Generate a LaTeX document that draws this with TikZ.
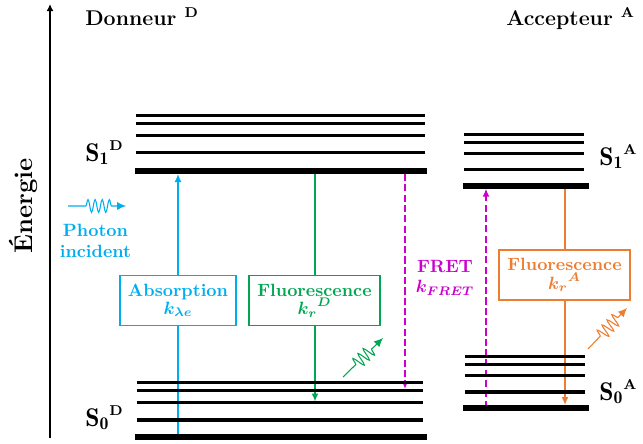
\documentclass[tikz,border=0pt]{standalone}
\usepackage{fontspec}
\usetikzlibrary{arrows.meta,decorations.pathmorphing}
\definecolor{cyanc}{RGB}{0,174,239}
\definecolor{greenc}{RGB}{0,166,81}
\definecolor{magc}{RGB}{204,0,204}
\definecolor{orangec}{RGB}{237,125,49}
\newcommand{\stsup}[1]{\mbox{\footnotesize\bfseries #1}}
\begin{document}
\begin{tikzpicture}[x=0.5625pt,y=-0.5625pt,
  lvl/.style={line width=1.9pt},
  lvlthick/.style={line width=3.4pt},
  trans/.style={line width=1.1pt,-{Latex[length=4.5pt,width=4pt]}},
  fretarrow/.style={line width=1.5pt,magc,dash pattern=on 4pt off 1.8pt,-{Latex[length=4.5pt,width=4pt]}},
  ratebox/.style={draw=#1,text=#1,fill=white,line width=0.7pt,align=center,font=\bfseries\boldmath,inner sep=0pt,minimum height=28pt},
  lbl/.style={anchor=base west,font=\large\bfseries\boldmath,inner sep=0pt},
  slbl/.style={anchor=base west,font=\Large\bfseries\boldmath,inner sep=0pt},
  wavy/.style={line width=0.6pt,decorate,decoration={snake,amplitude=3.6pt,segment length=4pt,pre length=10pt,post length=7pt},-{Latex[length=5pt,width=4.5pt]}}
]
\useasboundingbox (0,0) rectangle (643,443);

% energy axis
\coordinate (ax0) at (50,438);
\coordinate (ax1) at (50,4);
\draw[line width=1.1pt,-{Latex[length=4pt,width=4pt]}] (ax0) -- (ax1);
\node[rotate=90,anchor=base,font=\Large\bfseries,inner sep=0pt] (energie) at (33,206) {Énergie};

% titles
\node[lbl] (don) at (85,25) {Donneur \textsuperscript{D}};
\node[lbl] (acc) at (506,25) {Accepteur \textsuperscript{A}};

% transitions
\coordinate (ab0) at (178,440);
\coordinate (ab1) at (178,174);
\coordinate (fd0) at (315,171);
\coordinate (fd1) at (315,401.5);
\coordinate (fr0) at (405,174);
\coordinate (fr1) at (405,389);
\coordinate (fa0) at (486,407.7);
\coordinate (fa1) at (486,188.7);
\coordinate (fo0) at (565,186);
\coordinate (fo1) at (565,405);
\draw[trans,cyanc] (ab0) -- (ab1);
\draw[trans,greenc] (fd0) -- (fd1);
\draw[fretarrow] (fr0) -- (fr1);
\draw[fretarrow] (fa0) -- (fa1);
\draw[trans,orangec] (fo0) -- (fo1);

% donor levels
\foreach \y in {115.7,123.7,135.7,152.7} \draw[lvl] (136,\y) -- (425,\y);
\draw[lvlthick] (135,170.7) -- (427,170.7);
\foreach \y in {382.7,390.7,402.7,420} \draw[lvl] (136.5,\y) -- (422.5,\y);
\draw[lvlthick] (135,436.7) -- (426.5,436.7);
% acceptor levels
\foreach \y in {134.3,142.7,153.7,169.7} \draw[lvl] (464,\y) -- (584,\y);
\draw[lvlthick] (462.5,185.7) -- (588.5,185.7);
\foreach \y in {356.7,364.7,375.7,392} \draw[lvl] (465,\y) -- (584.5,\y);
\draw[lvlthick] (463,407.7) -- (589,407.7);

% state labels
\node[slbl] (s1d) at (85,161) {$\mathrm{S_1}^{\stsup{D}}$};
\node[slbl] (s0d) at (85,426) {$\mathrm{S_0}^{\stsup{D}}$};
\node[slbl] (s1a) at (599,165) {$\mathrm{S_1}^{\stsup{A}}$};
\node[slbl] (s0a) at (599,400) {$\mathrm{S_0}^{\stsup{A}}$};

% rate boxes
\node[ratebox=cyanc,minimum width=65.2pt] (absb) at (178,300.5) {Absorption\\[-2pt]$k_{\lambda e}$};
\node[ratebox=greenc,minimum width=73.6pt] (fldb) at (314.5,300.7) {Fluorescence\\[-1.5pt]${k_r}^{D}$};
\node[ratebox=orangec,minimum width=73.6pt] (flab) at (564.5,275) {Fluorescence\\[-1.5pt]${k_r}^{A}$};
\node[align=center,text=magc,font=\bfseries\boldmath,inner sep=0pt] (fret) at (445,278) {FRET\\[-1pt]$k_{FRET}$};

% photons
\coordinate (ph0) at (68,206);
\coordinate (ph1) at (126,206);
\draw[wavy,cyanc] (ph0) -- (ph1);
\node[align=center,text=cyanc,font=\bfseries,inner sep=0pt] (phtxt) at (95.5,241) {Photon\\incident};
\coordinate (pg0) at (343,377);
\coordinate (pg1) at (383,338);
\draw[wavy,greenc] (pg0) -- (pg1);
\coordinate (po0) at (588,349);
\coordinate (po1) at (627,308);
\draw[wavy,orangec] (po0) -- (po1);
\end{tikzpicture}
\end{document}
